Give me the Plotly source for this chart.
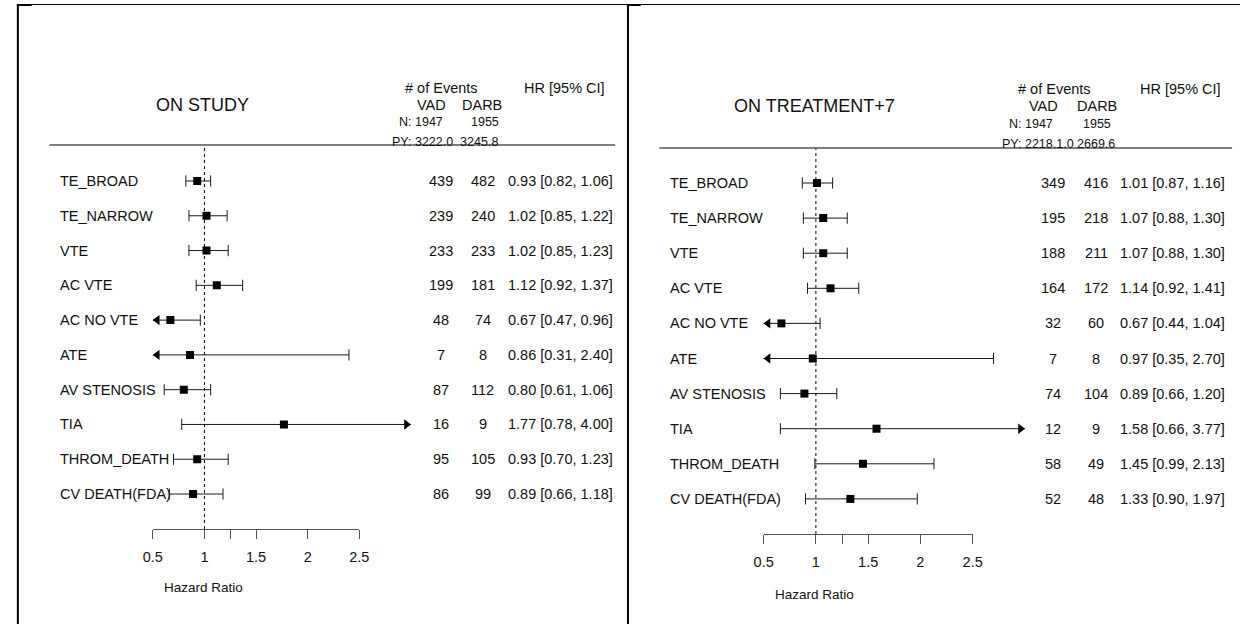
import plotly.graph_objects as go

W, H = 1250, 624
FONT = "Liberation Sans, Arial, sans-serif"

# ---------------- data ----------------
endpoints = ["TE_BROAD", "TE_NARROW", "VTE", "AC VTE", "AC NO VTE", "ATE",
             "AV STENOSIS", "TIA", "THROM_DEATH", "CV DEATH(FDA)"]

study_vad = [439, 239, 233, 199, 48, 7, 87, 16, 95, 86]
study_darb = [482, 240, 233, 181, 74, 8, 112, 9, 105, 99]
study_hr = [0.93, 1.02, 1.02, 1.12, 0.67, 0.86, 0.80, 1.77, 0.93, 0.89]
study_lo = [0.82, 0.85, 0.85, 0.92, 0.47, 0.31, 0.61, 0.78, 0.70, 0.66]
study_hi = [1.06, 1.22, 1.23, 1.37, 0.96, 2.40, 1.06, 4.00, 1.23, 1.18]

treat_vad = [349, 195, 188, 164, 32, 7, 74, 12, 58, 52]
treat_darb = [416, 218, 211, 172, 60, 8, 104, 9, 49, 48]
treat_hr = [1.01, 1.07, 1.07, 1.14, 0.67, 0.97, 0.89, 1.58, 1.45, 1.33]
treat_lo = [0.87, 0.88, 0.88, 0.92, 0.44, 0.35, 0.66, 0.66, 0.99, 0.90]
treat_hi = [1.16, 1.30, 1.30, 1.41, 1.04, 2.70, 1.20, 3.77, 2.13, 1.97]

tick_vals = [0.5, 1, 1.25, 1.5, 2, 2.5]
tick_text = ["0.5", "1", "", "1.5", "2", "2.5"]
clip_lo, clip_hi = 0.5, 3.0

panels = [
    dict(title="ON STUDY", n=("N: 1947", "1955"), py="PY: 3222.0  3245.8",
         vad=study_vad, darb=study_darb, hr=study_hr, lo=study_lo, hi=study_hi),
    dict(title="ON TREATMENT+7", n=("N: 1947", "1955"), py="PY: 2218.1.0 2669.6",
         vad=treat_vad, darb=treat_darb, hr=treat_hr, lo=treat_lo, hi=treat_hi),
]

# ---------------- layout geometry (pixels) ----------------
geo = [
    dict(one=197.6, scale=104.9, row0=181, drow=34.78, top=145, axis=529,
         lab=49, vad=438, darb=480.5, hrx=504, line=(40, 615),
         title=(196, 105), ev=(439, 88), hrh=(564, 88), vadh=(428, 105), darbh=(480, 105),
         nh=(418, 122), n2=(483, 122), pyh=(442, 142), hrlab=(197, 587)),
    dict(one=819.0, scale=106.2, row0=183, drow=35.1, top=148, axis=534,
         lab=669, vad=1060, darb=1104, hrx=1126, line=(660, 1242),
         title=(818, 106), ev=(1061, 89), hrh=(1190, 89), vadh=(1050, 106), darbh=(1105, 106),
         nh=(1038, 124), n2=(1105, 124), pyh=(1066, 144), hrlab=(818, 594)),
]

ARROW = 9  # arrow marker size (px)


def px(x):
    return x / W


def py(y):
    return 1 - y / H


fig = go.Figure()
annotations = []
shapes = []
layout_axes = {}

for k, (p, g) in enumerate(zip(panels, geo)):
    xa = "x" if k == 0 else "x2"
    ya = "y" if k == 0 else "y2"
    xt = "x3" if k == 0 else "x4"
    rows = list(range(len(endpoints)))

    # data axes
    r0, r1 = 0.4, 3.1
    d0 = px(g["one"] + (r0 - 1) * g["scale"])
    d1 = px(g["one"] + (r1 - 1) * g["scale"])
    ytop = (g["top"] - g["row0"]) / g["drow"]
    ybot = (g["axis"] - g["row0"]) / g["drow"]
    layout_axes["xaxis" if k == 0 else "xaxis2"] = dict(
        domain=[d0, d1], range=[r0, r1], visible=False, anchor=ya, fixedrange=True)
    layout_axes["yaxis" if k == 0 else "yaxis2"] = dict(
        domain=[py(g["axis"]), py(g["top"])], range=[ybot, ytop], visible=False,
        anchor=xa, fixedrange=True)
    # tick axis
    t0 = px(g["one"] + (0.5 - 1) * g["scale"])
    t1 = px(g["one"] + (2.5 - 1) * g["scale"])
    layout_axes["xaxis3" if k == 0 else "xaxis4"] = dict(
        domain=[t0, t1], range=[0.5, 2.5], anchor="free", position=py(g["axis"]),
        showline=True, linecolor="#555555", linewidth=1.2, ticks="outside",
        ticklen=9, tickcolor="#555555", tickwidth=1.2, tickvals=tick_vals,
        ticktext=tick_text, showgrid=False, zeroline=False,
        tickfont=dict(family=FONT, size=14.5, color="#111111"),
        ticklabelstandoff=5, fixedrange=True)
    fig.add_trace(go.Scatter(x=[None], y=[None], xaxis=xt, yaxis=ya,
                             showlegend=False, hoverinfo="skip"))

    # CI lines
    half = (ARROW / 2) / g["scale"]
    lx, ly = [], []
    capx, capy, alx, aly, arx, ary = [], [], [], [], [], []
    for r, lo, hi in zip(rows, p["lo"], p["hi"]):
        a = max(lo, clip_lo)
        b = min(hi, clip_hi)
        lx += [a, b, None]
        ly += [r, r, None]
        if lo < clip_lo:
            alx.append(clip_lo + half); aly.append(r)
        else:
            capx.append(lo); capy.append(r)
        if hi > clip_hi:
            arx.append(clip_hi - half); ary.append(r)
        else:
            capx.append(hi); capy.append(r)
    fig.add_trace(go.Scatter(x=lx, y=ly, mode="lines", xaxis=xa, yaxis=ya,
                             line=dict(color="#1a1a1a", width=1),
                             showlegend=False, hoverinfo="skip"))
    fig.add_trace(go.Scatter(x=capx, y=capy, mode="markers", xaxis=xa, yaxis=ya,
                             marker=dict(symbol="line-ns", size=8,
                                         line=dict(color="#1a1a1a", width=1)),
                             showlegend=False, hoverinfo="skip"))
    fig.add_trace(go.Scatter(x=alx, y=aly, mode="markers", xaxis=xa, yaxis=ya,
                             marker=dict(symbol="triangle-left", size=ARROW, color="black"),
                             showlegend=False, hoverinfo="skip", cliponaxis=False))
    fig.add_trace(go.Scatter(x=arx, y=ary, mode="markers", xaxis=xa, yaxis=ya,
                             marker=dict(symbol="triangle-right", size=ARROW, color="black"),
                             showlegend=False, hoverinfo="skip", cliponaxis=False))
    fig.add_trace(go.Scatter(x=p["hr"], y=rows, mode="markers", xaxis=xa, yaxis=ya,
                             marker=dict(symbol="square", size=8, color="black"),
                             showlegend=False, hoverinfo="skip"))

    # reference line at HR = 1
    shapes.append(dict(type="line", xref=xa, yref=ya + " domain", x0=1, x1=1,
                       y0=0, y1=1, line=dict(color="black", width=1, dash="dot")))
    # header rule
    shapes.append(dict(type="line", xref="paper", yref="paper",
                       x0=px(g["line"][0]), x1=px(g["line"][1]),
                       y0=py(g["top"]), y1=py(g["top"]),
                       line=dict(color="#555555", width=1.5)))

    def txt(s, xy, size=14, anchor="center"):
        annotations.append(dict(text=s, x=px(xy[0]), y=py(xy[1]), xref="paper",
                                yref="paper", showarrow=False, xanchor=anchor,
                                yanchor="middle", font=dict(family=FONT, size=size,
                                                            color="#111111")))

    txt(p["title"], g["title"], size=18)
    txt("# of Events", g["ev"], size=14.5)
    txt("HR [95% CI]", g["hrh"], size=14.5)
    txt("VAD", g["vadh"], size=14.5)
    txt("DARB", g["darbh"], size=14.5)
    txt(p["n"][0], g["nh"], size=12.5)
    txt(p["n"][1], g["n2"], size=12.5)
    txt(p["py"], g["pyh"], size=12.5)
    txt("Hazard Ratio", g["hrlab"], size=13.5)

    for r, name, v, d, hr, lo, hi in zip(rows, endpoints, p["vad"], p["darb"],
                                         p["hr"], p["lo"], p["hi"]):
        common = dict(xref="paper", yref=ya, y=r, showarrow=False, yanchor="middle",
                      font=dict(family=FONT, size=14.5, color="#111111"))
        annotations.append(dict(text=name, x=px(g["lab"]), xanchor="left", **common))
        annotations.append(dict(text=str(v), x=px(g["vad"]), xanchor="center", **common))
        annotations.append(dict(text=str(d), x=px(g["darb"]), xanchor="center", **common))
        annotations.append(dict(text=f"{hr:.2f} [{lo:.2f}, {hi:.2f}]",
                                x=px(g["hrx"]), xanchor="left", **common))

# frame lines
shapes.append(dict(type="line", xref="paper", yref="paper", x0=px(7), x1=1,
                   y0=py(4.5), y1=py(4.5), line=dict(color="black", width=1)))
shapes.append(dict(type="line", xref="paper", yref="paper", x0=px(8), x1=px(8),
                   y0=py(4), y1=0, line=dict(color="black", width=2)))
shapes.append(dict(type="line", xref="paper", yref="paper", x0=px(628), x1=px(628),
                   y0=py(4), y1=0, line=dict(color="black", width=2)))
shapes.append(dict(type="line", xref="paper", yref="paper", x0=px(7), x1=px(22),
                   y0=py(5), y1=py(5), line=dict(color="black", width=2)))
shapes.append(dict(type="line", xref="paper", yref="paper", x0=px(627), x1=px(641),
                   y0=py(5), y1=py(5), line=dict(color="black", width=2)))

fig.update_layout(width=W, height=H, margin=dict(l=0, r=0, t=0, b=0),
                  paper_bgcolor="white", plot_bgcolor="rgba(0,0,0,0)",
                  showlegend=False, annotations=annotations, shapes=shapes,
                  **layout_axes)

fig.write_html("out.html", config={"displayModeBar": False})
